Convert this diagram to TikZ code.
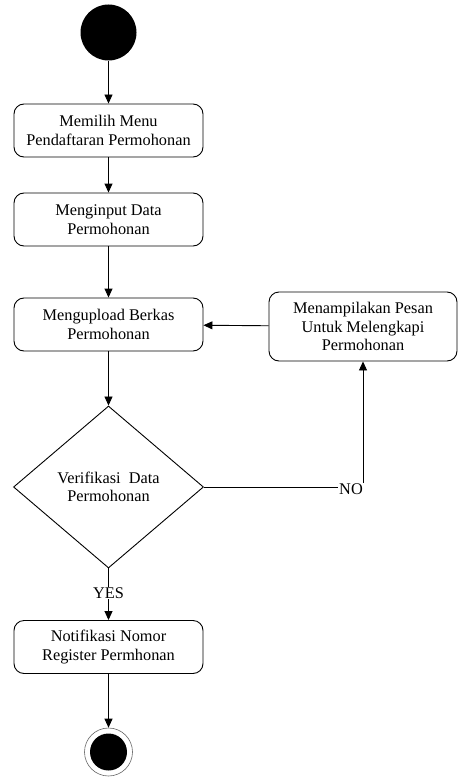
\documentclass[tikz,border=0pt]{standalone}
\usepackage{fontspec}
\setmainfont{Liberation Serif}
\usetikzlibrary{shapes.geometric,arrows.meta}
\begin{document}
\begin{tikzpicture}[x=1pt,y=-1pt,
  font=\fontsize{16.3}{18.5}\selectfont,
  act/.style={draw,rounded corners=10pt,minimum width=189pt,minimum height=53pt,align=center,inner sep=2pt,line width=0.9pt},
  flow/.style={line width=0.9pt,-{Triangle[length=9pt,width=8pt]}},
  lbl/.style={fill=white,inner sep=1pt}]
\useasboundingbox (0,0) rectangle (458,778);
\node[circle,fill=black,minimum size=56pt,inner sep=0] (start) at (108.5,32.5) {};
\node[act] (a1) at (108.5,130.5) {Memilih Menu\\Pendaftaran Permohonan};
\node[act] (a2) at (108.5,219.5) {Menginput Data\\Permohonan};
\node[act] (a3) at (108.5,324.5) {Mengupload Berkas\\Permohonan};
\node[act,minimum width=188pt,minimum height=69pt] (msg) at (363,326.5) {Menampilakan Pesan\\Untuk Melengkapi\\Permohonan};
\node[diamond,draw,line width=0.9pt,minimum width=190pt,minimum height=162pt,aspect=1.17,inner sep=0,align=center] (dec) at (108.5,487) {Verifikasi\ \ Data\\Permohonan};
\node[act] (a4) at (108.5,647) {Notifikasi Nomor\\Register Permhonan};
\node[circle,draw=black!60,line width=0.6pt,minimum size=48pt,inner sep=0] (end) at (108.5,752) {};
\node[circle,fill=black,minimum size=37pt,inner sep=0] (endin) at (end) {};
\draw[flow] (start) -- (a1);
\draw[flow] (a1) -- (a2);
\draw[flow] (a2) -- (a3);
\draw[flow] (a3) -- (dec);
\draw[flow] (msg) -- (a3);
\draw[flow] (dec.east) -| (msg.south);
\node[lbl] (no) at (351,489) {NO};
\draw[flow] (dec.south) -- (a4);
\node[lbl] (yes) at (108.5,593) {YES};
\draw[flow] (a4) -- (end);
\end{tikzpicture}
\end{document}
